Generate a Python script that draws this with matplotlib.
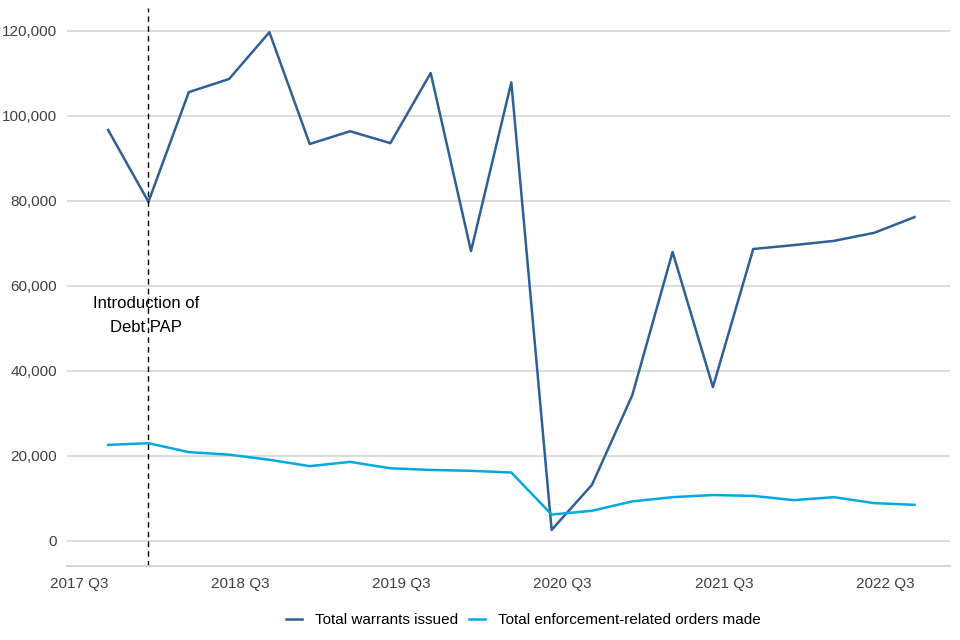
import matplotlib
matplotlib.use("Agg")
import matplotlib.pyplot as plt
from matplotlib.ticker import FuncFormatter

plt.rcParams["font.family"] = ["Liberation Sans", "DejaVu Sans"]

quarters = [
    "2017 Q3", "2017 Q4", "2018 Q1", "2018 Q2", "2018 Q3", "2018 Q4", "2019 Q1",
    "2019 Q2", "2019 Q3", "2019 Q4", "2020 Q1", "2020 Q2", "2020 Q3", "2020 Q4",
    "2021 Q1", "2021 Q2", "2021 Q3", "2021 Q4", "2022 Q1", "2022 Q2", "2022 Q3",
]
warrants = [
    96700, 79800, 105600, 108700, 119700, 93400, 96400, 93600, 110100, 68200,
    107900, 2600, 13200, 34300, 68000, 36200, 68700, 69600, 70600, 72500, 76200,
]
orders = [
    22600, 23000, 20900, 20300, 19100, 17600, 18600, 17100, 16700, 16500,
    16100, 6200, 7100, 9300, 10300, 10800, 10600, 9600, 10300, 8900, 8500,
]
pap_quarter = "2017 Q4"

DARK = "#2e6096"
LIGHT = "#00a9e0"
GREY = "#404040"


def main():
    fig = plt.figure(figsize=(9.6, 6.4), dpi=100)
    ax = fig.add_axes([0.0698, 0.1156, 0.9202, 0.8719])

    x = list(range(len(quarters)))
    ax.plot(x, warrants, color=DARK, lw=1.8, label="Total warrants issued")
    ax.plot(x, orders, color=LIGHT, lw=1.8, label="Total enforcement-related orders made")

    pap_x = quarters.index(pap_quarter)
    ax.axvline(pap_x, color="black", lw=1, ls=(0, (4, 3)))
    ax.text(pap_x - 0.05, 53000, "Introduction of\nDebt PAP", ha="center", va="center",
            fontsize=12, color="black", linespacing=1.7)

    ax.set_xlim(-1.02, 20.89)
    ax.set_ylim(-5900, 125400)
    ax.set_yticks(range(0, 120001, 20000))
    ax.yaxis.set_major_formatter(FuncFormatter(lambda v, p: f"{int(v):,}"))
    ax.grid(axis="y", color="#d9d9d9", lw=1.3)
    ax.set_axisbelow(True)

    ticks = [i for i, q in enumerate(quarters) if q.endswith("Q3")]
    ax.set_xticks(ticks)
    ax.set_xticklabels([quarters[i] for i in ticks], ha="right")

    for s in ["top", "right", "left"]:
        ax.spines[s].set_visible(False)
    ax.spines["bottom"].set_color("#d0d0d0")
    ax.spines["bottom"].set_linewidth(1.3)
    ax.tick_params(length=0, labelsize=11, colors=GREY, pad=8)
    ax.tick_params(axis="y", pad=7)

    ax.legend(loc="upper center", bbox_to_anchor=(0.517, -0.06), ncol=2, frameon=False,
              fontsize=11, handlelength=1.0, columnspacing=0.7, handletextpad=0.9)

    fig.savefig("out.png", dpi=100)
    plt.close(fig)


if __name__ == "__main__":
    main()
